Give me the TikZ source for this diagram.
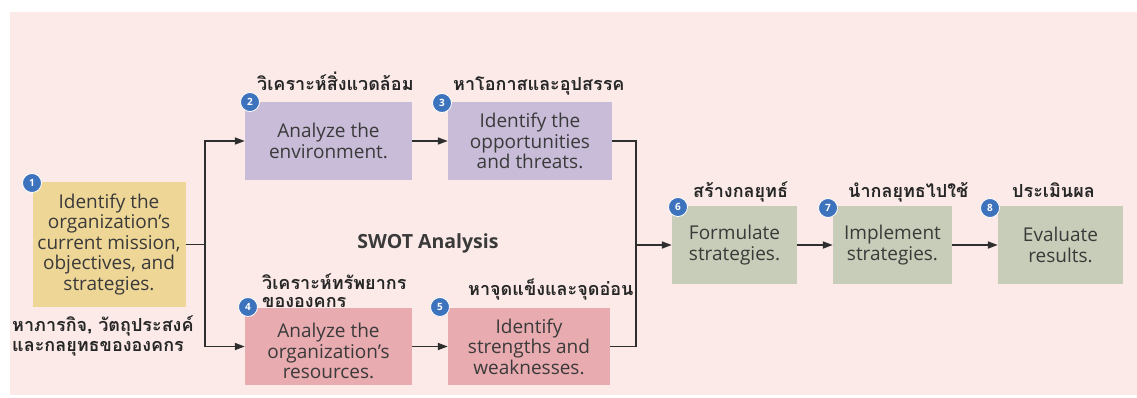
\documentclass[tikz,border=0pt]{standalone}
\usepackage{fontspec}
\setmainfont{Open Sans}
\newfontfamily\thaifont[Script=Thai]{Loma}
\usetikzlibrary{arrows.meta}

\definecolor{pagebg}{HTML}{FBEAE8}
\definecolor{ink}{HTML}{3A3A3A}
\definecolor{linec}{HTML}{2E2E2E}
\definecolor{tan}{HTML}{EED697}
\definecolor{lav}{HTML}{C8BCD8}
\definecolor{rose}{HTML}{E8ABB0}
\definecolor{sage}{HTML}{C7CDB8}
\definecolor{dotblue}{HTML}{3D72BD}

\begin{document}
\begin{tikzpicture}[x=1pt,y=-1pt,
  stepbox/.style={inner sep=0pt, align=center, text=ink,
    font=\fontsize{19}{20.5}\selectfont},
  num/.style={circle, fill=dotblue, draw=white, line width=0.8pt,
    minimum size=19pt, inner sep=0pt, text=white,
    font=\fontsize{10}{10}\selectfont\bfseries},
  tlab/.style={inner sep=0pt, anchor=base west, text=black!85,
    font=\thaifont\bfseries\fontsize{18}{18}\selectfont},
  conn/.style={draw=linec, line width=1.7pt},
  arrow/.style={conn, -{Triangle[length=10pt,width=7pt]}}
]
\useasboundingbox (0,0) rectangle (1137,397);
\fill[white] (0,0) rectangle (1137,397);
\fill[pagebg] (10,12) rectangle (1137,395);

% step boxes
\node[stepbox, fill=tan, minimum width=153pt, minimum height=125pt] (b1) at (109,244.5)
  {Identify the\\organization’s\\current mission,\\objectives, and\\strategies.};
\node[stepbox, fill=lav, minimum width=167pt, minimum height=78pt] (b2) at (328.5,141)
  {Analyze the\\environment.};
\node[stepbox, fill=lav, minimum width=164pt, minimum height=78pt] (b3) at (530,141)
  {Identify the\\opportunities\\and threats.};
\node[stepbox, fill=rose, minimum width=167pt, minimum height=77pt] (b4) at (328.5,346.5)
  {\rule{0pt}{24pt}Analyze the\\organization’s\\resources.};
\node[stepbox, fill=rose, minimum width=162pt, minimum height=77pt] (b5) at (529,346.5)
  {Identify\\strengths and\\weaknesses.};
\node[stepbox, fill=sage, minimum width=125pt, minimum height=78pt] (b6) at (734.5,245)
  {Formulate\\strategies.};
\node[stepbox, fill=sage, minimum width=119pt, minimum height=78pt] (b7) at (892.5,245)
  {Implement\\strategies.};
\node[stepbox, fill=sage, minimum width=125pt, minimum height=78pt] (b8) at (1060.5,245)
  {Evaluate\\results.};

\node[text=ink, inner sep=0pt, font=\fontsize{19.5}{20}\selectfont\bfseries] (swot) at (428,243)
  {SWOT Analysis};

% connectors
\coordinate (split) at (205,244.5);
\coordinate (join) at (636,245);
\draw[conn] (b1.east) -- (split);
\draw[arrow] (split) |- (b2.west);
\draw[arrow] (split) |- (b4.west);
\draw[arrow] (b2) -- (b3);
\draw[arrow] (b4) -- (b5);
\draw[conn] (b3.east) -| (join) |- (b5.east);
\draw[arrow] (join) -- (b6.west);
\draw[arrow] (b6) -- (b7);
\draw[arrow] (b7) -- (b8);

% Thai captions
\node[tlab] (t1a) at (12,331) {หาภารกิจ, วัตถุประสงค์};
\node[tlab] (t1b) at (12,351) {และกลยุทธขององคกร};
\node[tlab] (t2) at (257,90) {วิเคราะห์สิ่งแวดล้อม};
\node[tlab] (t3) at (453,90) {หาโอกาสและอุปสรรค};
\node[tlab] (t4a) at (262,289) {วิเคราะห์ทรัพยากร};
\node[tlab] (t4b) at (262,307) {ขององคกร};
\node[tlab] (t5) at (468,295) {หาจุดแข็งและจุดอ่อน};
\node[tlab] (t6) at (693,197) {สร้างกลยุทธ์};
\node[tlab] (t7) at (848,197) {นำกลยุทธไปใช้};
\node[tlab] (t8) at (1012,197) {ประเมินผล};

% step numbers
\node[num] (n1) at (32,183) {1};
\node[num] (n2) at (250,102) {2};
\node[num] (n3) at (442,103) {3};
\node[num] (n4) at (248,307) {4};
\node[num] (n5) at (440,307) {5};
\node[num] (n6) at (678,207) {6};
\node[num] (n7) at (828,208) {7};
\node[num] (n8) at (990,208) {8};
\end{tikzpicture}
\end{document}
